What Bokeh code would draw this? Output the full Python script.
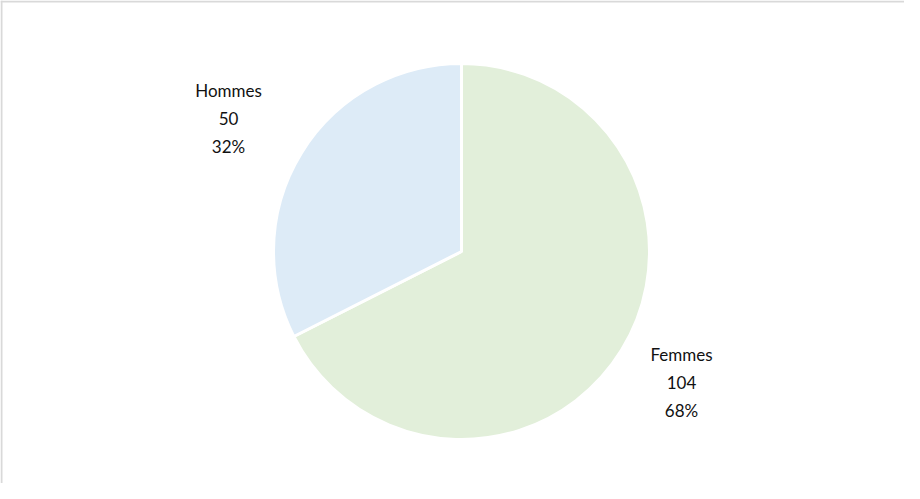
import numpy as np
from bokeh.plotting import figure
from bokeh.models import Range1d, Span, ColumnDataSource
from bokeh.core.properties import value
from bokeh.embed import file_html
from bokeh.resources import INLINE

# Data
categories = ["Femmes", "Hommes"]
counts = [104, 50]
colors = ["#E2EFDA", "#DDEBF7"]

W, H = 904, 483
p = figure(width=W, height=H, output_backend="svg", toolbar_location=None,
           x_range=Range1d(0, W), y_range=Range1d(0, H), min_border=0)
p.axis.visible = False
p.grid.visible = False
p.outline_line_color = None
p.background_fill_color = "white"
p.border_fill_color = "white"

total = float(sum(counts))
fr = np.array(counts) / total
cum_end = np.cumsum(fr)
cum_start = cum_end - fr
start = np.pi / 2 - 2 * np.pi * cum_end
end = np.pi / 2 - 2 * np.pi * cum_start

cx, cy, r = 461, 232, 188
src = ColumnDataSource(dict(start=start, end=end, color=colors,
                            x=[cx] * len(counts), y=[cy] * len(counts)))
p.wedge(x="x", y="y", radius=r, radius_units="screen", start_angle="start",
        end_angle="end", fill_color="color", line_color="white", line_width=3,
        source=src)

# Labels (layout positions)
label_pos = {"Femmes": (681, 129), "Hommes": (228, 393)}
lines_x, lines_y, lines_t = [], [], []
for c, n, f in zip(categories, counts, fr):
    lx, ly = label_pos[c]
    for k, t in enumerate([c, str(n), f"{round(f * 100):.0f}%"]):
        lines_x.append(lx)
        lines_y.append(ly - 28 * k)
        lines_t.append(t)
p.text(x=lines_x, y=lines_y, text=lines_t, text_font=value("Lato"),
       text_font_size="17px", text_color="#111111", text_align="center",
       text_baseline="middle")

# chart area border (left / top)
p.add_layout(Span(location=1, dimension="height", line_color="#D9D9D9", line_width=2))
p.add_layout(Span(location=H - 1, dimension="width", line_color="#D9D9D9", line_width=2))

open("out.html", "w").write(file_html(p, INLINE))
